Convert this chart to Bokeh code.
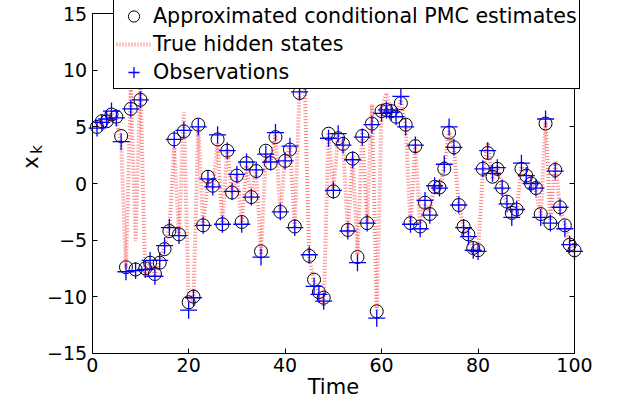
import math
from bokeh.plotting import figure
from bokeh.models import LinearAxis, FixedTicker, Label, Legend, LegendItem, Range1d
from bokeh.embed import file_html
from bokeh.resources import INLINE

time = list(range(1, 101))

estimates = [
    5.0, 5.5, 5.5, 6.1, 5.9, 4.2, -7.4, 6.6, -7.6, 7.4,
    -7.5, -7.0, -8.0, -7.0, -5.8, -4.2, 3.9, -4.5, 4.6, -10.5,
    -10.0, 5.2, -3.7, 0.6, -0.2, 3.9, -3.6, 2.9, -0.8, 0.7,
    -3.4, 1.8, -1.2, 1.1, -6.0, 2.9, 1.8, 4.1, -2.5, 2.0,
    3.0, -3.8, 8.0, 9.3, -6.4, -8.5, -9.6, -10.1, 4.4, -0.7,
    4.0, 3.5, -4.1, 2.2, -6.5, 4.2, -3.5, 5.3, -11.3, 6.4,
    6.5, 6.4, 5.9, 7.1, 5.2, -3.5, 3.3, -3.8, -1.7, -2.7,
    -0.3, -0.35, 1.3, 4.5, 3.2, -1.9, -3.8, -4.5, -5.7, -5.9,
    1.3, 2.7, 0.6, 1.3, -0.35, -1.6, -2.6, -2.3, 1.3, 0.7,
    0.0, -0.4, -2.7, 5.3, -3.5, 1.2, -2.1, -3.7, -5.4, -5.9,
]

true_states = [
    5.1, 5.4, 5.6, 6.2, 5.7, 3.6, -7.5, 8.7, -5.1, 8.9,
    -8.3, -6.9, -8.1, -6.8, -5.6, -3.9, 3.2, -4.6, 6.3, -10.4,
    -10.2, 4.9, -3.8, 0.4, -0.5, 3.6, -3.5, 3.1, -0.9, 0.9,
    -3.5, 1.6, -1.4, 1.2, -6.3, 2.7, 2.0, 4.3, -2.6, 2.2,
    3.2, -3.9, 8.3, 9.8, -6.6, -8.7, -9.7, -10.8, 4.5, -0.6,
    4.2, 3.7, -4.4, 2.4, -6.3, 4.8, -3.6, 7.0, -11.2, 6.6,
    8.0, 6.2, 6.1, 7.4, 5.0, -3.7, 3.5, -3.6, -1.9, -2.5,
    -0.2, -0.5, 1.5, 4.6, 3.0, -1.7, -3.9, -4.4, -5.8, -6.1,
    1.1, 3.6, 0.4, 1.5, -0.5, -1.8, -2.4, -2.5, 1.5, 0.9,
    0.2, -0.6, -2.9, 5.5, -3.3, 2.0, -2.3, -3.5, -5.2, -6.1,
]

observations = [
    4.9, 5.4, 5.7, 6.4, 5.8, 3.7, -7.8, 6.6, -7.7, 7.4,
    -7.6, -6.8, -8.2, -6.8, -5.5, -3.9, 3.9, -4.6, 4.7, -11.2,
    -10.1, 5.0, -3.7, 0.4, -0.3, 4.3, -3.6, 2.9, -0.7, 0.8,
    -3.6, 1.9, -1.2, 1.2, -6.5, 2.6, 1.9, 4.5, -2.5, 2.0,
    3.3, -3.9, 8.1, 9.6, -6.3, -9.1, -9.8, -10.4, 4.0, -0.6,
    4.4, 3.4, -4.2, 2.1, -7.0, 4.1, -3.5, 5.2, -11.9, 6.2,
    6.5, 6.3, 5.9, 7.7, 5.0, -3.6, 3.4, -4.0, -1.5, -2.8,
    -0.2, -0.4, 1.7, 5.0, 3.2, -1.9, -3.9, -4.7, -5.9, -6.0,
    1.3, 2.9, 0.9, 1.4, -0.4, -1.8, -3.0, -2.3, 1.8, 0.7,
    0.0, -0.4, -3.0, 5.7, -3.5, 1.1, -2.1, -4.0, -5.4, -6.0,
]

x_ticks = [0, 20, 40, 60, 80, 100]
y_ticks = [-15, -10, -5, 0, 5, 10, 15]
y_tick_labels = {t: (str(t).replace("-", "\u2212")) for t in y_ticks}
X_MIN, X_MAX = 0, 100
Y_MIN, Y_MAX = -15, 15

legend_labels = [
    "Approximated conditional PMC estimates",
    "True hidden states",
    "Observations",
]

FONT = "DejaVu Sans"

# ---- layout (pixels) ----
W, H = 610, 397
BOX_L, BOX_R, BOX_T, BOX_B = 91.7, 574.0, 13.3, 352.7
sx = (BOX_R - BOX_L) / (X_MAX - X_MIN)
sy = (BOX_B - BOX_T) / (Y_MAX - Y_MIN)
x_start = X_MIN - BOX_L / sx
x_end = X_MAX + (W - BOX_R) / sx
y_start = Y_MIN - (H - BOX_B) / sy
y_end = Y_MAX + BOX_T / sy

p = figure(
    width=W, height=H,
    x_range=Range1d(x_start, x_end), y_range=Range1d(y_start, y_end),
    output_backend="svg", toolbar_location=None,
    min_border=0, min_border_left=0, min_border_right=0,
    min_border_top=0, min_border_bottom=0,
)
p.xgrid.visible = False
p.ygrid.visible = False
p.outline_line_color = None
p.background_fill_color = "white"
p.border_fill_color = "white"

r_est = p.scatter(time, estimates, marker="circle", size=13, fill_color=None,
                  line_color="black", line_width=1)
r_true = p.line(time, true_states, line_color="red", line_alpha=0.5,
                line_width=4, line_dash="1 2")
r_obs = p.scatter(time, observations, marker="cross", size=17,
                  line_color="blue", line_width=1.3)


def style(ax, ticks, show_labels=True):
    ax.ticker = FixedTicker(ticks=ticks)
    ax.axis_line_color = "black"
    ax.axis_line_width = 1
    ax.major_tick_in = 5
    ax.major_tick_out = 0
    ax.minor_tick_in = 0
    ax.minor_tick_out = 0
    ax.major_tick_line_color = "black"
    ax.major_label_text_font = FONT
    ax.major_label_text_color = "black"
    ax.major_label_text_font_size = "19px"
    if not show_labels:
        ax.major_label_overrides = {t: "" for t in ticks}
        ax.major_label_standoff = 0


bottom = p.xaxis[0]
style(bottom, x_ticks)
bottom.fixed_location = Y_MIN
bottom.bounds = (X_MIN, X_MAX)
bottom.major_label_standoff = 5

left = p.yaxis[0]
style(left, y_ticks)
left.fixed_location = X_MIN
left.bounds = (Y_MIN, Y_MAX)
left.major_label_overrides = y_tick_labels
left.major_label_standoff = 5

right = LinearAxis()
style(right, y_ticks, show_labels=False)
right.fixed_location = X_MAX
right.bounds = (Y_MIN, Y_MAX)
p.add_layout(right, "right")

top = LinearAxis()
style(top, x_ticks, show_labels=False)
top.fixed_location = Y_MAX
top.bounds = (X_MIN, X_MAX)
p.add_layout(top, "above")

legend = Legend(
    items=[
        LegendItem(label=legend_labels[0], renderers=[r_est]),
        LegendItem(label=legend_labels[1], renderers=[r_true]),
        LegendItem(label=legend_labels[2], renderers=[r_obs]),
    ],
    location=(113, H - 89),
    label_text_font=FONT, label_text_font_size="20.6px", label_text_color="black",
    label_height=28, glyph_height=28, glyph_width=35,
    label_standoff=2, padding=2, spacing=0, margin=0,
    border_line_color="black", border_line_width=1, border_line_alpha=1,
    background_fill_color="white", background_fill_alpha=1,
)
p.add_layout(legend)

p.add_layout(Label(x=50, y=11, x_units="data", y_units="screen", text="Time",
                   text_font=FONT, text_font_size="21px", text_align="center",
                   text_baseline="alphabetic", text_color="black"))
p.add_layout(Label(x=30, y=H - 162, x_units="screen", y_units="screen", text="x",
                   angle=math.pi / 2, text_font=FONT, text_font_size="21px",
                   text_align="center", text_baseline="middle", text_color="black"))
p.add_layout(Label(x=36, y=H - 149, x_units="screen", y_units="screen", text="k",
                   angle=math.pi / 2, text_font=FONT, text_font_size="15px",
                   text_align="center", text_baseline="middle", text_color="black"))

open("out.html", "w").write(file_html(p, INLINE))
